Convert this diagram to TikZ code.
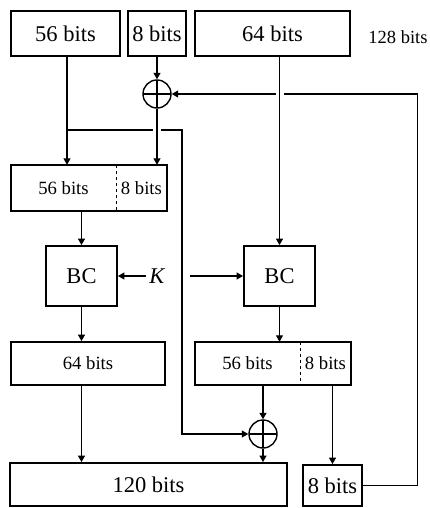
\documentclass[tikz,border=0pt]{standalone}
\usepackage{fontspec}
\setmainfont{Liberation Serif}
\usetikzlibrary{arrows.meta,calc,positioning}

\begin{document}
\begin{tikzpicture}[x=1pt,y=-1pt,
    blk/.style={draw,line width=1.8pt,inner sep=0pt,font=\fontsize{22.5}{24}\selectfont},
    half/.style={inner sep=0pt,font=\fontsize{18.7}{20}\selectfont},
    xor/.style={circle,draw,line width=1.4pt,minimum size=28pt,inner sep=0pt,
      path picture={\draw[line width=1.1pt] (path picture bounding box.north) -- (path picture bounding box.south)
        (path picture bounding box.west) -- (path picture bounding box.east);}},
    ln/.style={line width=1.1pt},
    arr/.style={ln,-{Triangle[width=7pt,length=6.5pt]}},
    gap/.style={preaction={draw=white,line width=8pt,-,shorten <=4pt,shorten >=4pt}}]
    \useasboundingbox (0,0) rectangle (430,508);
    % Indgangsregistre
    \node[blk,minimum width=109pt,minimum height=45pt] (a56) at (65.5,33.5) {56 bits};
    \node[blk,minimum width=58pt,minimum height=45pt] (a8) at (157,33.5) {8 bits};
    \node[blk,minimum width=155pt,minimum height=45pt] (a64) at (272.5,33.5) {64 bits};
    \node[font=\fontsize{18.5}{20}\selectfont] (t128) at (398,37) {128 bits};
    \node[xor] (x1) at (157,94) {};
    % Delt register foer venstre blokchiffer
    \node[half,minimum width=105pt,minimum height=46pt] (c1a) at (63.5,188) {56 bits};
    \node[half,minimum width=50pt,minimum height=46pt,right=0pt of c1a] (c1b) {8 bits};
    \draw[line width=1.8pt] (c1a.north west) rectangle (c1b.south east);
    \draw[dashed,line width=0.9pt] (c1a.north east) -- (c1a.south east);
    % Blokchifre og noegle
    \node[blk,minimum width=71pt,minimum height=60pt] (bc1) at (81.5,276) {BC};
    \node[font=\fontsize{22.5}{24}\selectfont\itshape] (K) at (157,276) {K};
    \node[blk,minimum width=71pt,minimum height=60pt] (bc2) at (279.5,276) {BC};
    % Mellemregistre
    \node[blk,font=\fontsize{18.7}{20}\selectfont,minimum width=154pt,minimum height=43pt] (m64) at (88,363.5) {64 bits};
    \node[half,minimum width=105pt,minimum height=43pt] (c2a) at (247.5,363.5) {56 bits};
    \node[half,minimum width=50pt,minimum height=43pt,right=0pt of c2a] (c2b) {8 bits};
    \draw[line width=1.8pt] (c2a.north west) rectangle (c2b.south east);
    \draw[dashed,line width=0.9pt] (c2a.north east) -- (c2a.south east);
    \node[xor] (x2) at (263,434) {};
    % Udgangsregistre
    \node[blk,minimum width=277pt,minimum height=43pt] (r120) at (148.5,484.5) {120 bits};
    \node[blk,minimum width=59pt,minimum height=41pt] (r8) at (332.5,485.5) {8 bits};
    % Tilbagefoering og forgrening (tegnes foer linjerne der krydser dem)
    \coordinate (br) at (67,130);
    \draw[arr] (r8.east) -- ++(55,0) |- (x1.east);
    \draw[arr] (br) -- ++(115,0) |- (x2.west);
    % Pile
    \draw[arr] (a56.south -| br) -- (br |- c1a.north);
    \draw[arr] (a8) -- (x1);
    \draw[arr,gap] (x1) -- (x1 |- c1b.north);
    \draw[arr] (c1a.south -| bc1) -- (bc1);
    \draw[arr] (K) -- (bc1);
    \draw[arr,shorten <=22pt] (K) -- (bc2);
    \draw[arr,gap] (a64.south -| bc2) -- (bc2);
    \draw[arr] (bc1) -- (bc1 |- m64.north);
    \draw[arr] (bc2) -- (bc2 |- c2a.north);
    \draw[arr] (m64.south -| bc1) -- (bc1 |- r120.north);
    \draw[arr] (c2a.south -| x2) -- (x2);
    \draw[arr] (x2) -- (x2 |- r120.north);
    \draw[arr] (c2b.south -| r8) -- (r8);
  \end{tikzpicture}
\end{document}
